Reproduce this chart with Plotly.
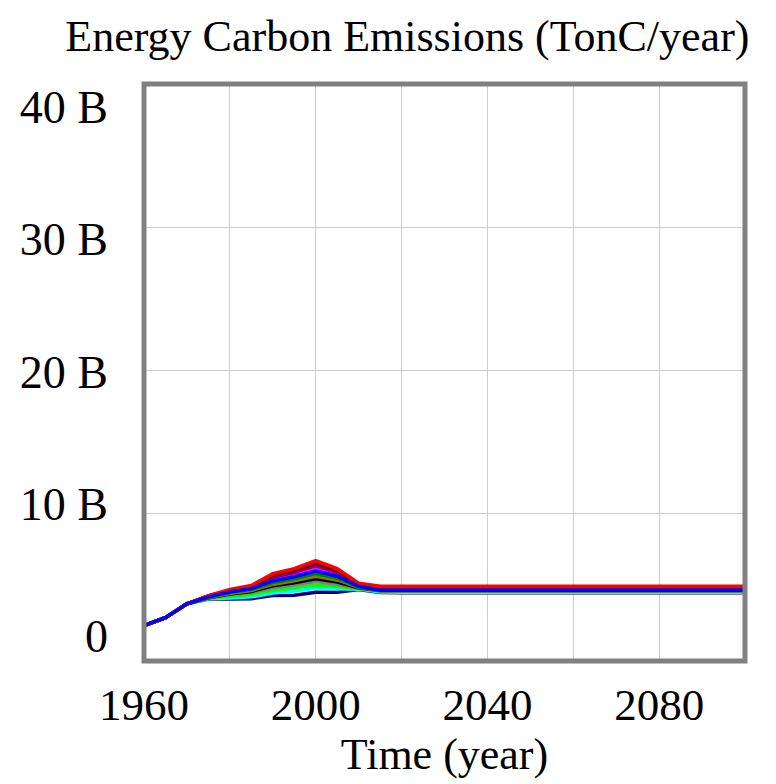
import plotly.graph_objects as go

years = [1960, 1965, 1970, 1975, 1980, 1985, 1990, 1995, 2000, 2005, 2010, 2015, 2020, 2100]

# Energy carbon emissions, billion TonC/year, one list per simulation run
start = [2.17, 2.73, 3.70]
run_red     = start + [4.27, 4.69, 4.97, 5.80, 6.15, 6.71, 6.15, 5.13, 4.92, 4.92, 4.92]
run_maroon  = start + [4.24, 4.64, 4.90, 5.68, 6.02, 6.52, 6.02, 5.06, 4.88, 4.88, 4.88]
run_purple  = start + [4.22, 4.60, 4.86, 5.55, 5.90, 6.36, 5.90, 5.00, 4.85, 4.85, 4.85]
run_magenta = start + [4.20, 4.56, 4.82, 5.42, 5.76, 6.20, 5.78, 4.96, 4.80, 4.80, 4.80]
run_green   = start + [4.16, 4.48, 4.70, 5.18, 5.45, 5.80, 5.50, 4.88, 4.64, 4.64, 4.64]
run_olive   = start + [4.14, 4.42, 4.62, 5.05, 5.30, 5.62, 5.36, 4.85, 4.63, 4.63, 4.63]
run_black   = start + [4.12, 4.38, 4.56, 4.95, 5.16, 5.44, 5.22, 4.82, 4.62, 4.62, 4.62]
run_gray    = start + [4.10, 4.32, 4.48, 4.82, 5.00, 5.25, 5.06, 4.78, 4.61, 4.61, 4.61]
run_lime    = start + [4.08, 4.22, 4.34, 4.62, 4.80, 5.00, 4.90, 4.74, 4.60, 4.60, 4.60]
run_cyan    = start + [4.05, 4.10, 4.18, 4.45, 4.58, 4.78, 4.74, 4.72, 4.52, 4.50, 4.50]
run_navy    = start + [4.03, 4.03, 4.05, 4.27, 4.29, 4.50, 4.50, 4.69, 4.48, 4.46, 4.46]
run_blue    = start + [4.18, 4.52, 4.76, 5.30, 5.58, 5.98, 5.62, 4.92, 4.64, 4.64, 4.64]

runs = [
    (run_navy, "#000080"),
    (run_cyan, "#00ffff"),
    (run_lime, "#00ff00"),
    (run_gray, "#808080"),
    (run_black, "#000000"),
    (run_olive, "#808000"),
    (run_green, "#008000"),
    (run_magenta, "#ff00ff"),
    (run_purple, "#800080"),
    (run_maroon, "#800000"),
    (run_red, "#ff0000"),
    (run_blue, "#0000ff"),
]

x_ticks = [1960, 2000, 2040, 2080]
x_tick_text = ["1960", "2000", "2040", "2080"]
y_ticks = [0, 10, 20, 30, 40]
y_tick_text = ["0", "10 B", "20 B", "30 B", "40 B"]

font = "Liberation Serif, Times New Roman, serif"

fig = go.Figure()
for vals, col in runs:
    fig.add_trace(go.Scatter(x=years, y=vals, mode="lines",
                             line=dict(color=col, width=3.5),
                             showlegend=False, hoverinfo="skip"))

# empty trace so the label axis (y2) is drawn
fig.add_trace(go.Scatter(x=[], y=[], yaxis="y2", mode="lines",
                         showlegend=False, hoverinfo="skip"))

fig.update_layout(
    width=776, height=784,
    margin=dict(l=144, r=31, t=84, b=123),
    paper_bgcolor="white", plot_bgcolor="white",
    title=dict(text="Energy Carbon Emissions (TonC/year)",
               font=dict(family=font, size=44, color="black"),
               x=0.525, xanchor="center", y=0.955, yanchor="middle"),
    xaxis=dict(range=[1960, 2100], tickvals=x_ticks, ticktext=x_tick_text,
               showgrid=True, gridcolor="#cccccc", gridwidth=1,
               minor=dict(dtick=20, tick0=1960, showgrid=True, gridcolor="#cccccc", gridwidth=1),
               zeroline=False, showline=False, ticks="",
               tickfont=dict(family=font, size=45, color="black"),
               ticklabelstandoff=13,
               title=dict(text="Time (year)", font=dict(family=font, size=44, color="black"),
                          standoff=4)),
    yaxis=dict(range=[-0.3, 40], tickvals=[10, 20, 30], showticklabels=False,
               showgrid=True, gridcolor="#cccccc", gridwidth=1,
               zeroline=False, showline=False, ticks=""),
    yaxis2=dict(range=[-1.89, 41.74], overlaying="y", side="left",
                tickvals=y_ticks, ticktext=y_tick_text, showgrid=False,
                zeroline=False, showline=False, ticks="",
                ticklabelstandoff=35,
                tickfont=dict(family=font, size=46, color="black")),
    shapes=[dict(type="rect", xref="paper", yref="paper", x0=0, x1=1, y0=0, y1=1,
                 line=dict(color="#808080", width=5), layer="above")],
)

fig.write_html("out.html")
